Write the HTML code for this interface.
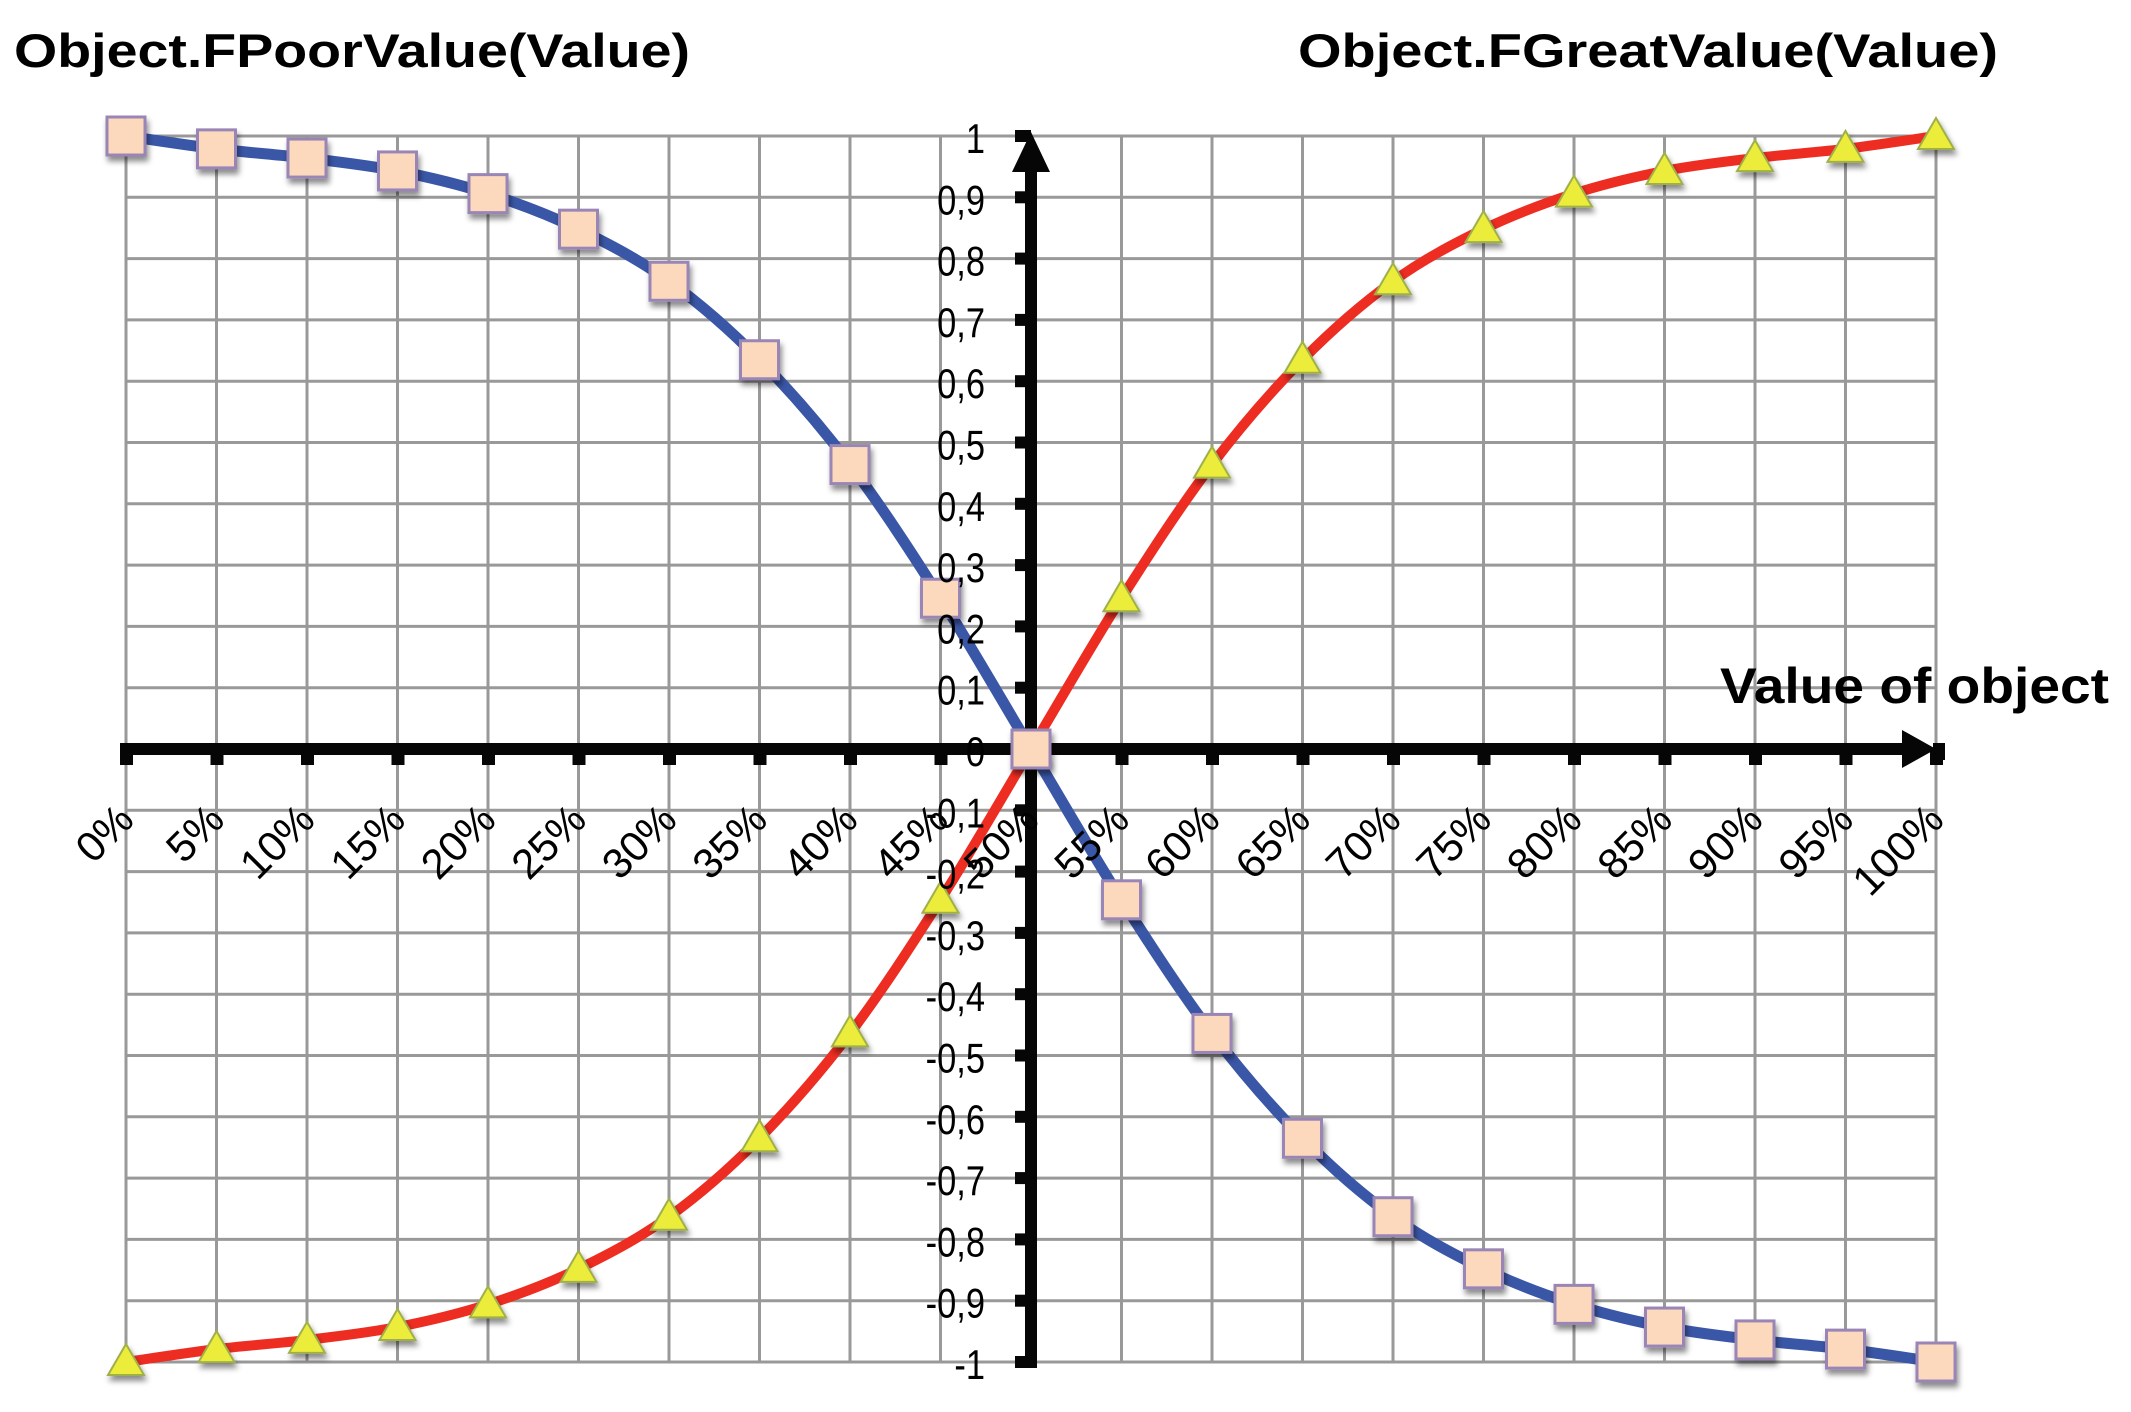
<!DOCTYPE html>
<html><head><meta charset="utf-8"><style>
html,body{margin:0;padding:0;background:#fff;}
svg{display:block;}
text{font-family:"Liberation Sans",sans-serif;}
</style></head><body>
<svg id="chart" width="2131" height="1412" viewBox="0 0 2131 1412" xmlns="http://www.w3.org/2000/svg">
<defs>
<filter id="sh" x="-50%" y="-50%" width="200%" height="200%"><feDropShadow dx="2" dy="5" stdDeviation="3" flood-color="#000" flood-opacity="0.45"/></filter>
</defs>
<g id="grid"></g>
<g id="axes"></g>
<g id="series"></g>
<g id="labels"></g>
<text x="14" y="67" font-size="47" font-weight="bold" textLength="676" lengthAdjust="spacingAndGlyphs">Object.FPoorValue(Value)</text>
<text x="1298" y="67" font-size="47" font-weight="bold" textLength="700" lengthAdjust="spacingAndGlyphs">Object.FGreatValue(Value)</text>
<text x="1720" y="703" font-size="50" font-weight="bold" textLength="389" lengthAdjust="spacingAndGlyphs">Value of object</text>
</svg>
<script>
const categories = [0,5,10,15,20,25,30,35,40,45,50,55,60,65,70,75,80,85,90,95,100];
const poorValues = [1,0.979,0.964,0.943,0.906,0.848,0.763,0.635,0.464,0.246,0,-0.246,-0.464,-0.635,-0.763,-0.848,-0.906,-0.943,-0.964,-0.979,-1];
const greatValues = [-1,-0.979,-0.964,-0.943,-0.906,-0.848,-0.763,-0.635,-0.464,-0.246,0,0.246,0.464,0.635,0.763,0.848,0.906,0.943,0.964,0.979,1];
const yTicks = [1,0.9,0.8,0.7,0.6,0.5,0.4,0.3,0.2,0.1,0,-0.1,-0.2,-0.3,-0.4,-0.5,-0.6,-0.7,-0.8,-0.9,-1];
const yTickLabels = ["1","0,9","0,8","0,7","0,6","0,5","0,4","0,3","0,2","0,1","0","-0,1","-0,2","-0,3","-0,4","-0,5","-0,6","-0,7","-0,8","-0,9","-1"];

const NS="http://www.w3.org/2000/svg";
const X0=126,X1=1936,Y1=136,Ym1=1362;
const xs=v=>X0+(v/100)*(X1-X0);
const ys=v=>Y1+(1-v)/2*(Ym1-Y1);
function mk(tag,attrs,parent){const e=document.createElementNS(NS,tag);for(const k in attrs)e.setAttribute(k,attrs[k]);parent.appendChild(e);return e;}
const grid=document.getElementById('grid'),axes=document.getElementById('axes'),series=document.getElementById('series'),labels=document.getElementById('labels');

categories.forEach(c=>{
  const l=mk('line',{x1:xs(c),x2:xs(c),y1:ys(1),y2:ys(-1),stroke:'#999','stroke-width':3},grid);
  
  
});
yTicks.forEach(v=>{
  const l=mk('line',{x1:X0,x2:X1,y1:ys(v),y2:ys(v),stroke:'#999','stroke-width':3},grid);
  
  
});

const cx=xs(50), cy=ys(0);
const xa=mk('rect',{x:120,y:cy-6,width:1795,height:12,fill:'#050605'},axes);


const xar=mk('polygon',{points:`${X1-34},${cy-19} ${X1},${cy} ${X1-34},${cy+19}`,fill:'#050605'},axes);


mk('rect',{x:X1-3,y:cy-6,width:12,height:17,fill:'#050605'},axes);
categories.forEach(c=>{
  const t=mk('rect',{x:xs(c)-6,y:cy,width:13,height:16,fill:'#050605'},axes);
  
  
});
const ya=mk('rect',{x:cx-6,y:168,width:12,height:Ym1-168+6,fill:'#050605'},axes);


const yar=mk('polygon',{points:`${cx-19},172 ${cx},132 ${cx+19},172`,fill:'#050605'},axes);


yTicks.forEach(v=>{
  const t=mk('rect',{x:cx-16,y:ys(v)-6,width:16,height:12,fill:'#050605'},axes);
  
  
});

yTicks.forEach((v,i)=>{
  const t=mk('text',{x:985,y:ys(v)+17,'font-size':42,'text-anchor':'end',transform:`translate(985,0) scale(0.82,1) translate(-985,0)`},labels);
  t.textContent=yTickLabels[i];
  
  
});
categories.forEach(c=>{
  const ax=xs(c)+10, ay=822;
  const t=mk('text',{x:ax,y:ay,'font-size':42,'text-anchor':'end',transform:`rotate(-45 ${ax} ${ay})`},labels);
  t.textContent=c+'%';
  
  
});

function pathFrom(vals){
  const p=categories.map((c,i)=>[xs(c),ys(vals[i])]);
  let d=`M${p[0][0]},${p[0][1]}`;
  for(let i=0;i<p.length-1;i++){
    const p0=p[i-1]||p[i],p1=p[i],p2=p[i+1],p3=p[i+2]||p2;
    const c1=[p1[0]+(p2[0]-p0[0])/6,p1[1]+(p2[1]-p0[1])/6];
    const c2=[p2[0]-(p3[0]-p1[0])/6,p2[1]-(p3[1]-p1[1])/6];
    d+=` C${c1[0]},${c1[1]} ${c2[0]},${c2[1]} ${p2[0]},${p2[1]}`;
  }
  return d;
}
const gl=mk('path',{d:pathFrom(greatValues),fill:'none',stroke:'#ee2d22','stroke-width':10,'stroke-linejoin':'round'},series);


categories.forEach((c,i)=>{
  const x=xs(c),y=ys(greatValues[i]);
  const m=mk('polygon',{points:`${x},${y-18} ${x+18},${y+13} ${x-18},${y+13}`,fill:'#ecec3a',stroke:'#9fb04a','stroke-width':2,filter:'url(#sh)'},series);
  
  
});
const pl=mk('path',{d:pathFrom(poorValues),fill:'none',stroke:'#3a56a6','stroke-width':11,'stroke-linejoin':'round'},series);


categories.forEach((c,i)=>{
  const x=xs(c),y=ys(poorValues[i]);
  const m=mk('rect',{x:x-19,y:y-19,width:38,height:38,fill:'#fcd9bd',stroke:'#9a86b6','stroke-width':3,filter:'url(#sh)'},series);
  
  
});
</script>
</body></html>
